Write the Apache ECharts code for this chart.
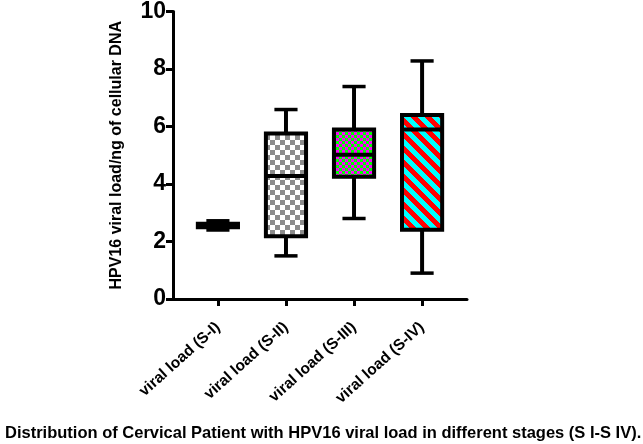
<!DOCTYPE html>
<html>
<head>
<meta charset="utf-8">
<script src="https://cdn.jsdelivr.net/npm/echarts@6/dist/echarts.min.js"></script>
<style>
html,body{margin:0;padding:0;background:#fff;}
#c{width:643px;height:444px;}
</style>
</head>
<body>
<div id="c"></div>
<script>
const categories = ['viral load (S-I)', 'viral load (S-II)', 'viral load (S-III)', 'viral load (S-IV)'];
const minVals = [2.40, 1.50, 2.80, 0.90];
const q1Vals  = [2.50, 2.18, 4.25, 2.41];
const medVals = [2.56, 4.28, 5.02, 5.90];
const q3Vals  = [2.62, 5.76, 5.90, 6.40];
const maxVals = [2.72, 6.59, 7.39, 8.28];
const yTicks = [0, 2, 4, 6, 8, 10];
const chartTitle = 'Distribution of Cervical Patient with HPV16 viral load in different stages (S I-S IV).';
const yName = 'HPV16 viral load/ng of cellular DNA';

function makeCanvas(w, h, fn) {
  const c = document.createElement('canvas');
  c.width = w; c.height = h;
  const ctx = c.getContext('2d');
  const img = ctx.createImageData(w, h);
  for (let y = 0; y < h; y++) for (let x = 0; x < w; x++) {
    const col = fn(x, y);
    const i = (y * w + x) * 4;
    img.data[i] = col[0]; img.data[i+1] = col[1]; img.data[i+2] = col[2]; img.data[i+3] = 255;
  }
  ctx.putImageData(img, 0, 0);
  return c;
}
const patWhite = makeCanvas(2, 2, () => [255,255,255]);
const patGray = makeCanvas(10, 10, (x, y) => ((Math.floor(x/5) + Math.floor(y/5)) % 2 === 0) ? [140,140,140] : [255,255,255]);
const patMG = makeCanvas(6, 6, (x, y) => ((Math.floor(x/3) + Math.floor(y/3)) % 2 === 0) ? [255,0,255] : [0,255,0]);
const patRC = makeCanvas(14, 14, (x, y) => (((x - y) % 14 + 14) % 14 < 7) ? [255,0,0] : [0,255,255]);
const patterns = [patWhite, patGray, patMG, patRC];

const data = categories.map((c, i) => [i, minVals[i], q1Vals[i], medVals[i], q3Vals[i], maxVals[i]]);

const chart = echarts.init(document.getElementById('c'), null, {renderer: 'canvas'});
chart.setOption({
  animation: false,
  backgroundColor: '#fff',
  title: {
    text: chartTitle,
    left: 0, top: 420,
    textStyle: {fontFamily: 'Liberation Sans, Arial', fontWeight: 'bold', fontSize: 16.5, color: '#000'}
  },
  grid: {left: 173, right: 176, top: 7, bottom: 145, containLabel: false},
  xAxis: {
    type: 'value', min: -0.66, max: 3.66,
    splitLine: {show: false},
    axisLine: {show: true, onZero: false, lineStyle: {color: '#000', width: 3}},
    axisTick: {show: true, customValues: [0,1,2,3], length: 7, lineStyle: {color: '#000', width: 3}},
    axisLabel: {
      customValues: [0,1,2,3], rotate: 42, margin: 26,
      formatter: v => categories[Math.round(v)],
      fontFamily: 'Liberation Sans, Arial', fontWeight: 'bold', fontSize: 15.5, color: '#000'
    }
  },
  yAxis: {
    type: 'value', min: 0, max: 10, interval: 2,
    name: yName, nameLocation: 'middle', nameRotate: 90, nameGap: 48,
    nameTextStyle: {fontFamily: 'Liberation Sans, Arial', fontWeight: 'bold', fontSize: 16, color: '#000'},
    splitLine: {show: false},
    axisLine: {show: true, onZero: false, lineStyle: {color: '#000', width: 3}},
    axisTick: {show: true, length: 7, lineStyle: {color: '#000', width: 3}},
    axisLabel: {
      margin: 7,
      formatter: v => yTicks.indexOf(v) >= 0 ? String(v) : '',
      fontFamily: 'Liberation Sans, Arial', fontWeight: 'bold', fontSize: 23, color: '#000'
    }
  },
  series: [{
    type: 'custom',
    data: data,
    encode: {x: 0, y: [1,2,3,4,5]},
    clip: false,
    renderItem: function (params, api) {
      const i = api.value(0);
      const unit = api.size([1, 0])[0];
      const boxHalf = unit * 0.295;
      const capHalf = unit * 0.17;
      const pMin = api.coord([i, api.value(1)]);
      const pQ1 = api.coord([i, api.value(2)]);
      const pMed = api.coord([i, api.value(3)]);
      const pQ3 = api.coord([i, api.value(4)]);
      const pMax = api.coord([i, api.value(5)]);
      const cx = pMed[0];
      const line = (x1, y1, x2, y2, w) => ({type: 'line', shape: {x1, y1, x2, y2}, style: {stroke: '#000', lineWidth: w, lineCap: 'butt'}});
      return {
        type: 'group',
        children: [
          line(cx, pMax[1], cx, pQ3[1], 4),
          line(cx, pQ1[1], cx, pMin[1], 4),
          line(cx - capHalf, pMax[1], cx + capHalf, pMax[1], 3.5),
          line(cx - capHalf, pMin[1], cx + capHalf, pMin[1], 3.5),
          {type: 'rect', shape: {x: cx - boxHalf, y: pQ3[1], width: boxHalf * 2, height: pQ1[1] - pQ3[1]},
           style: {fill: {image: patterns[i], repeat: 'repeat'}, stroke: '#000', lineWidth: 4}},
          line(cx - boxHalf, pMed[1], cx + boxHalf, pMed[1], 4)
        ]
      };
    }
  }]
});
</script>
</body>
</html>
